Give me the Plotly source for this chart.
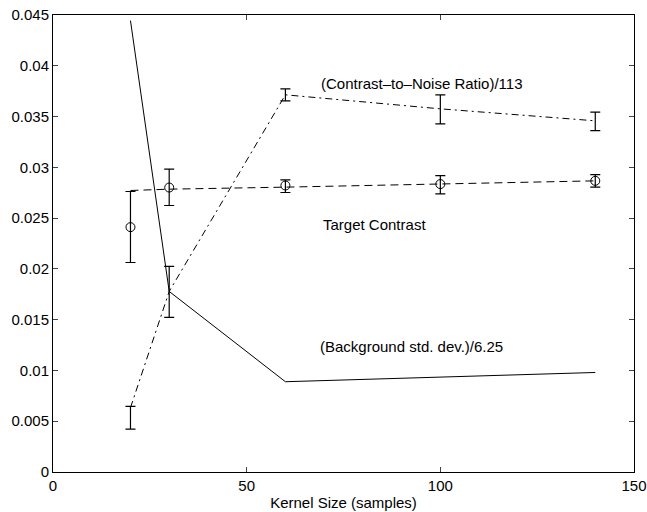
import plotly.graph_objects as go
import numpy as np

kernel = [20, 30, 60, 100, 140]

# (Background std. dev.)/6.25 - solid line
bg_x = [20, 30, 60, 140]
bg_std = [0.04445, 0.01778, 0.00889, 0.0098]

# (Contrast-to-Noise Ratio)/113 - dash-dot line with error bars
cnr = [0.00633, 0.01778, 0.03714, 0.03576, 0.03458]
cnr_hi = [0.00646, 0.02024, 0.03773, 0.03714, 0.03543]
cnr_lo = [0.00423, 0.01522, 0.03655, 0.03428, 0.03362]

# Target contrast - dashed line plus circles with error bars
tc_line = [0.02772, 0.02785, 0.02805, 0.02835, 0.02867]
tc_mean = [0.02411, 0.02801, 0.02821, 0.02835, 0.02867]
tc_hi = [0.02762, 0.02982, 0.02877, 0.02919, 0.02929]
tc_lo = [0.02063, 0.02624, 0.02752, 0.02739, 0.02805]

yticks = [0, 0.005, 0.01, 0.015, 0.02, 0.025, 0.03, 0.035, 0.04, 0.045]
ytick_text = ["0", "0.005", "0.01", "0.015", "0.02", "0.025", "0.03", "0.035", "0.04", "0.045"]
xticks = [0, 50, 100, 150]

font_name = "Liberation Sans, Arial, sans-serif"

fig = go.Figure()

fig.add_trace(go.Scatter(
    x=bg_x, y=bg_std, mode="lines",
    line=dict(color="black", width=1), showlegend=False))

cnr_arr = np.array(cnr)
fig.add_trace(go.Scatter(
    x=kernel, y=cnr, mode="lines",
    line=dict(color="black", width=1, dash="7px,4px,2px,4px"),
    error_y=dict(type="data", symmetric=False,
                 array=list(np.array(cnr_hi) - cnr_arr),
                 arrayminus=list(cnr_arr - np.array(cnr_lo)),
                 color="black", thickness=1.2, width=5),
    showlegend=False))

fig.add_trace(go.Scatter(
    x=kernel, y=tc_line, mode="lines",
    line=dict(color="black", width=1, dash="8px,5px"), showlegend=False))

tc_arr = np.array(tc_mean)
fig.add_trace(go.Scatter(
    x=kernel, y=tc_mean, mode="markers",
    marker=dict(symbol="circle-open", size=9, color="black", line=dict(width=1, color="black")),
    error_y=dict(type="data", symmetric=False,
                 array=list(np.array(tc_hi) - tc_arr),
                 arrayminus=list(tc_arr - np.array(tc_lo)),
                 color="black", thickness=1.2, width=5),
    showlegend=False))

annots = [
    dict(x=95.2, y=0.0383, text="(Contrast\u2013to\u2013Noise Ratio)/113"),
    dict(x=82.9, y=0.02434, text="Target Contrast"),
    dict(x=92.6, y=0.01236, text="(Background std. dev.)/6.25"),
]
for a in annots:
    fig.add_annotation(x=a["x"], y=a["y"], text=a["text"], showarrow=False,
                       font=dict(family=font_name, size=15, color="black"),
                       xanchor="center", yanchor="middle")

fig.update_layout(
    width=647, height=512,
    margin=dict(l=53, r=13, t=15, b=40),
    paper_bgcolor="white", plot_bgcolor="white",
    font=dict(family=font_name, size=15, color="black"),
    xaxis=dict(range=[0, 150], tickvals=xticks, ticks="inside", ticklen=5,
               showline=True, linecolor="black", linewidth=1, mirror="allticks",
               showgrid=False, zeroline=False, ticklabeloverflow="allow", automargin=False,
               title=dict(text="Kernel Size (samples)", font=dict(size=15), standoff=4),
               tickfont=dict(size=15)),
    yaxis=dict(range=[0, 0.045], tickvals=yticks, ticktext=ytick_text, ticks="inside", ticklen=5,
               showline=True, linecolor="black", linewidth=1, mirror="allticks", automargin=False,
               showgrid=False, zeroline=False, tickfont=dict(size=15), ticklabeloverflow="allow"),
)

fig.write_html("out.html")
